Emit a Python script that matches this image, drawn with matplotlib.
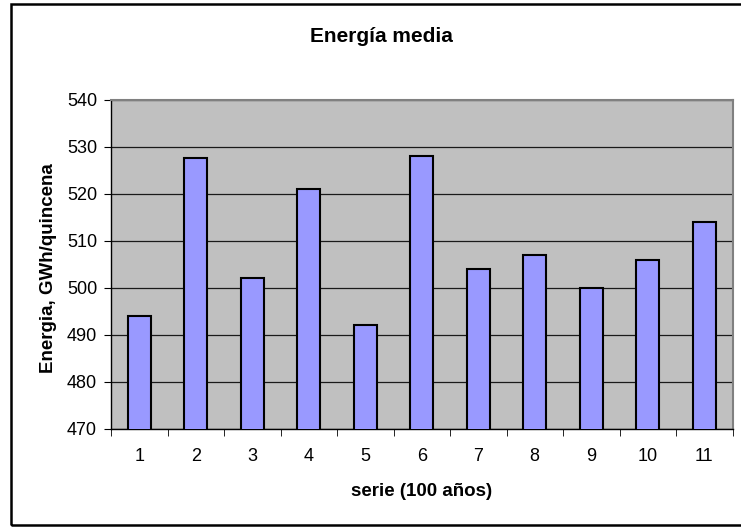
import matplotlib
matplotlib.use("Agg")
import matplotlib.pyplot as plt
import numpy as np
from matplotlib.patches import Rectangle

categories = ["1", "2", "3", "4", "5", "6", "7", "8", "9", "10", "11"]
values = [494, 527.6, 502, 521, 492, 528, 504, 507, 500, 506, 514]
yticks = [470, 480, 490, 500, 510, 520, 530, 540]

plt.rcParams['font.family'] = ['Liberation Sans', 'DejaVu Sans']

W, H = 741, 527
fig = plt.figure(figsize=(W / 100, H / 100), dpi=100)
fig.patches.append(Rectangle((10.5 / W, (H - 525) / H), 740 / W, 521.5 / H, transform=fig.transFigure,
                             fill=False, edgecolor='black', linewidth=1.8, clip_on=False))
ax = fig.add_axes([111 / W, (H - 428.5) / H, 621.5 / W, 328.5 / H])
ax.set_facecolor('#C0C0C0')

x = np.arange(len(categories))
ax.bar(x, values, width=0.41, color='#9999FF', edgecolor='black', linewidth=1.5, zorder=3)
ax.set_xlim(-0.5, len(categories) - 0.5)
ax.set_ylim(470, 540)
ax.set_yticks(yticks)
ax.set_yticklabels([str(t) for t in yticks], fontsize=13)
ax.yaxis.grid(True, color='#1a1a1a', linewidth=0.9, zorder=1)
ax.set_axisbelow(True)

ax.set_xticks(x)
ax.set_xticklabels(categories, fontsize=13)
ax.tick_params(axis='x', length=0, pad=14)
ax.set_xticks(np.arange(-0.5, len(categories)), minor=True)
ax.tick_params(axis='x', which='minor', length=5, direction='out', color='black')
ax.tick_params(axis='y', length=5, direction='out', color='black', pad=5)

for s in ['top', 'right']:
    ax.spines[s].set_color('#808080')
    ax.spines[s].set_linewidth(1.5)
for s in ['left', 'bottom']:
    ax.spines[s].set_color('black')
    ax.spines[s].set_linewidth(1.0)

fig.text(422 / W, 1 - 491.5 / H, 'serie (100 años)', ha='center', va='center',
         fontsize=13.5, fontweight='bold')
fig.text(49 / W, 1 - 268.5 / H, 'Energia, GWh/quincena', ha='center', va='center',
         rotation=90, fontsize=13.5, fontweight='bold')
fig.text(381 / W, 1 - 37 / H, 'Energía media', ha='center', va='center',
         fontsize=15, fontweight='bold')

fig.savefig('out.png', dpi=100)
